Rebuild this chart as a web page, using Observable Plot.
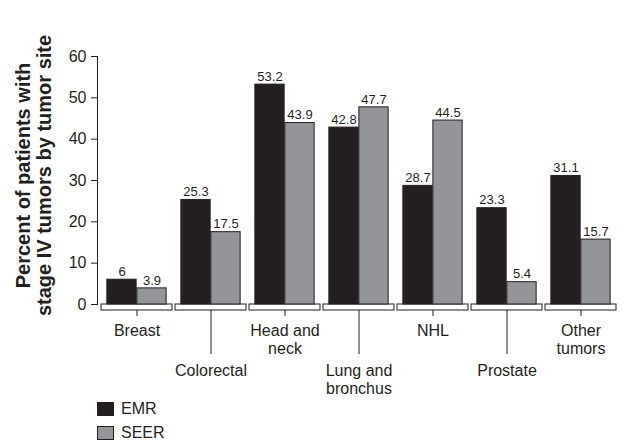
<!DOCTYPE html>
<html><head><meta charset="utf-8">
<script src="https://cdn.jsdelivr.net/npm/d3@7"></script>
<script src="https://cdn.jsdelivr.net/npm/@observablehq/plot@0.6"></script>
<style>
body{margin:0;background:#fff;font-family:"Liberation Sans",Arial,sans-serif;}
#wrap{position:relative;width:624px;height:443px;overflow:hidden;}
.item{position:absolute;left:97px;display:flex;align-items:center;font-size:16px;color:#231f20;height:16px;}
.sw{box-sizing:border-box;width:17px;height:14px;border:1px solid #231f20;margin-right:7px;}
</style></head><body><div id="wrap"></div>
<script>
const sites = ["Breast","Colorectal","Head and\nneck","Lung and\nbronchus","NHL","Prostate","Other\ntumors"];
const emr = [6,25.3,53.2,42.8,28.7,23.3,31.1];
const seer = [3.9,17.5,43.9,47.7,44.5,5.4,15.7];
const yTicks = [0,10,20,30,40,50,60];
const series = ["EMR","SEER"];
const colors = ["#231f20","#939598"];
const yTitle = "Percent of patients with\nstage IV tumors by tumor site";

const rows = sites.map((s,i)=>({site:s, EMR:emr[i], SEER:seer[i], i}));
const W = 624, H = 443, ML = 97, MR = 4, MT = 56, MB = 139;
const PI = 0.04, PO = 0.02;
const step = (W-ML-MR)/(sites.length - PI + 2*PO);
const bw = step*(1-PI);
const barW = 30;
const ink = "#231f20";
const upper = sites.filter((d,i)=>i%2===0);
const lower = sites.filter((d,i)=>i%2===1);

const chart = Plot.plot({
  width: W, height: H,
  marginLeft: ML, marginRight: MR, marginTop: MT, marginBottom: MB,
  style: {fontFamily: '"Liberation Sans", Arial, sans-serif', fontSize: "16px", color: ink, background: "#fff"},
  x: {domain: sites, paddingInner: PI, paddingOuter: PO, axis: null},
  y: {domain: [0,60], ticks: yTicks, tickSize: 6, tickPadding: 5, line: true, label: null, tickFormat: d=>String(d)},
  marks: [
    Plot.barY(sites, {x: d=>d, y1: 0, y2: 0, insetBottom: -6, fill: "none", stroke: ink, strokeWidth: 1}),
    Plot.ruleX(upper, {x: d=>d, y1: 0, y2: 0, insetTop: 6, insetBottom: -12, stroke: ink}),
    Plot.ruleX(lower, {x: d=>d, y1: 0, y2: 0, insetTop: 6, insetBottom: -50, stroke: ink}),
    Plot.barY(rows, {x: "site", y: "EMR", fill: colors[0], stroke: ink, insetLeft: bw/2-barW, insetRight: bw/2}),
    Plot.barY(rows, {x: "site", y: "SEER", fill: colors[1], stroke: ink, insetLeft: bw/2, insetRight: bw/2-barW}),
    Plot.text(rows, {x: "site", y: "EMR", text: d=>String(d.EMR), dx: -barW/2, dy: -8, lineAnchor: "middle", fontSize: 13, fill: ink}),
    Plot.text(rows, {x: "site", y: "SEER", text: d=>String(d.SEER), dx: barW/2, dy: -8, lineAnchor: "middle", fontSize: 13, fill: ink}),
    Plot.text(upper, {x: d=>d, y: 0, text: d=>d, lineAnchor: "top", dy: 18.6, fontSize: 16, lineHeight: 1.125, fill: ink}),
    Plot.text(lower, {x: d=>d, y: 0, text: d=>d, lineAnchor: "top", dy: 59.1, fontSize: 16, lineHeight: 1.125, fill: ink}),
    Plot.text([yTitle], {frameAnchor: "left", rotate: -90, dx: -63.5, dy: -5, textAnchor: "middle", fontSize: 20, fontWeight: "bold", lineHeight: 1.05, fill: ink})
  ]
});
const wrap = document.getElementById("wrap");
wrap.appendChild(chart);
series.forEach((s,i)=>{
  const it = document.createElement("div");
  it.className = "item";
  it.style.top = (401 + i*24) + "px";
  const sw = document.createElement("span");
  sw.className = "sw"; sw.style.background = colors[i];
  const t = document.createElement("span"); t.textContent = s;
  it.appendChild(sw); it.appendChild(t);
  wrap.appendChild(it);
});
</script></body></html>
